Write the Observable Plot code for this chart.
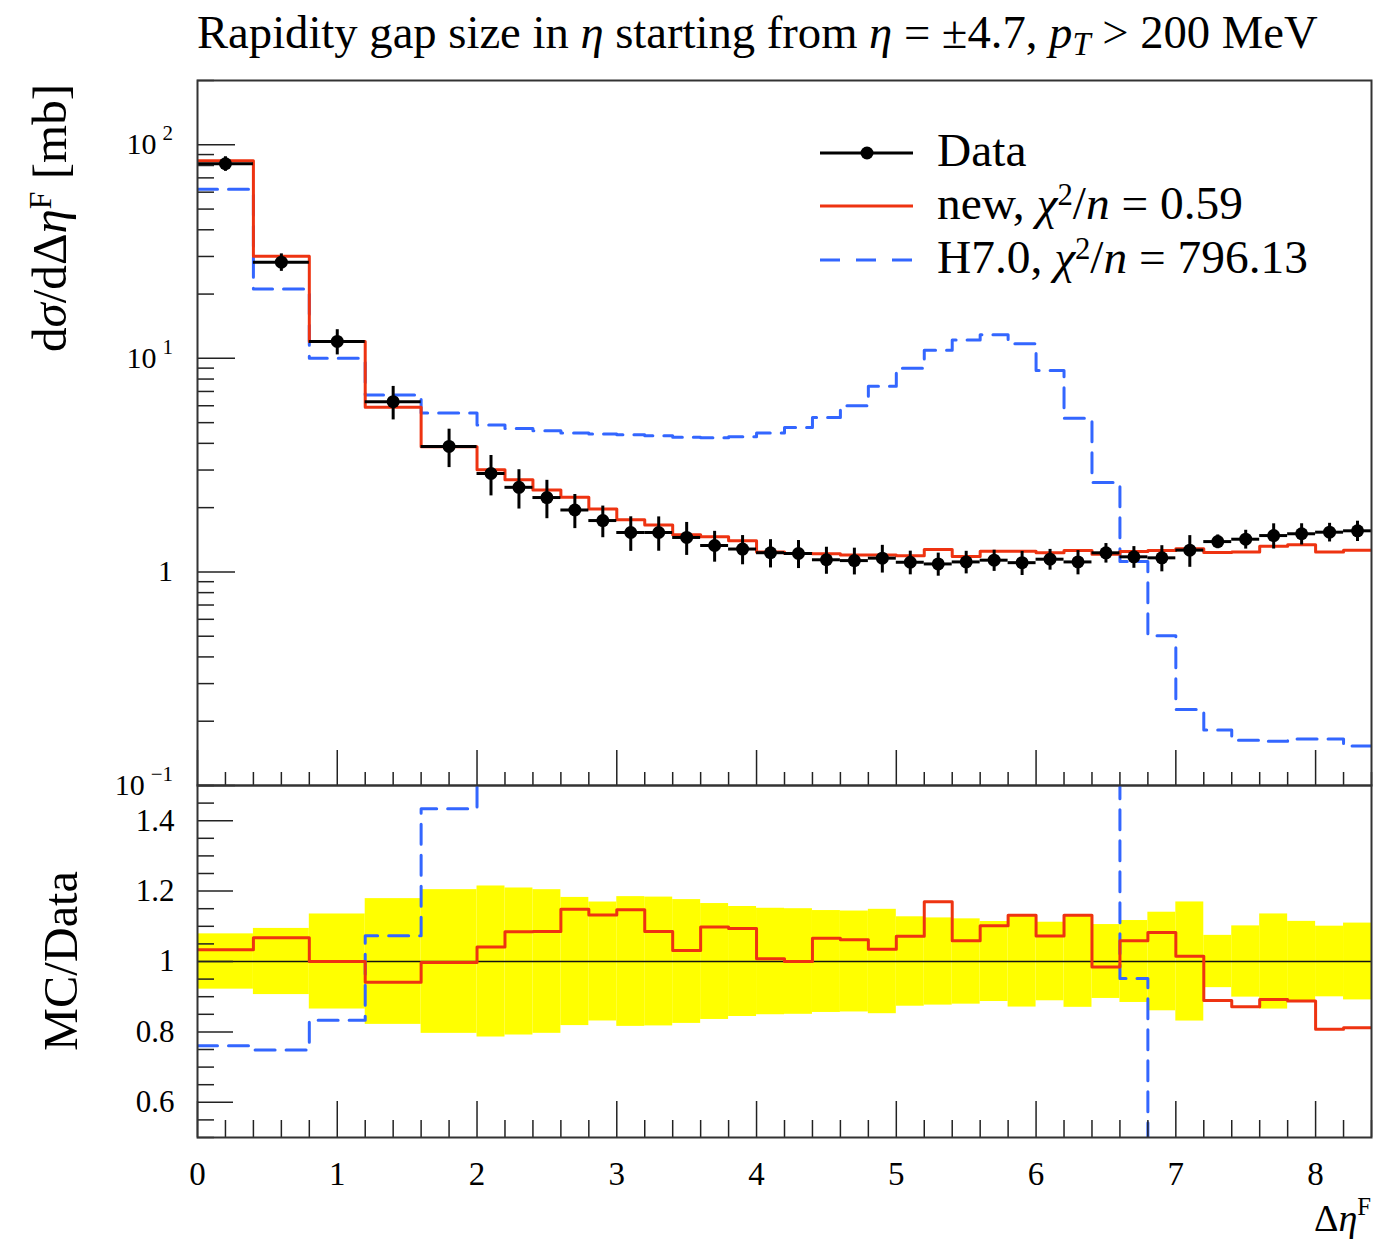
<!DOCTYPE html>
<html><head><meta charset="utf-8">
<script src="https://cdn.jsdelivr.net/npm/d3@7"></script>
<script src="https://cdn.jsdelivr.net/npm/@observablehq/plot@0.6"></script>
<style>
body{margin:0;background:#fff;}
#wrap{position:relative;width:1384px;height:1240px;overflow:hidden;background:#fff;}
#wrap svg{position:absolute;left:0;}
</style></head><body><div id="wrap"></div>
<script>
const binEdges = [0,0.4,0.8,1.2,1.6,2.0,2.2,2.4,2.6,2.8,3.0,3.2,3.4,3.6,3.8,4.0,4.2,4.4,4.6,4.8,5.0,5.2,5.4,5.6,5.8,6.0,6.2,6.4,6.6,6.8,7.0,7.2,7.4,7.6,7.8,8.0,8.2,8.4];
const dataValues = [81.5,28.2,12.0,6.27,3.87,2.89,2.49,2.23,1.95,1.74,1.53,1.53,1.45,1.33,1.28,1.23,1.22,1.14,1.13,1.16,1.11,1.09,1.114,1.135,1.105,1.147,1.114,1.229,1.177,1.164,1.265,1.387,1.423,1.48,1.509,1.535,1.558];
const dataErrors = [6.4,2.65,1.62,1.12,0.79,0.62,0.52,0.455,0.355,0.294,0.282,0.28,0.255,0.219,0.20,0.186,0.183,0.165,0.162,0.172,0.141,0.135,0.135,0.129,0.143,0.128,0.145,0.129,0.137,0.163,0.214,0.103,0.144,0.20,0.172,0.154,0.17];
const newValues = [84.2,30.1,12.0,5.90,3.86,3.01,2.70,2.42,2.24,1.97,1.755,1.66,1.495,1.46,1.40,1.24,1.22,1.215,1.20,1.20,1.19,1.275,1.18,1.25,1.25,1.23,1.26,1.21,1.246,1.26,1.284,1.233,1.24,1.32,1.34,1.24,1.265];
const h70Values = [62.0,21.1,10.0,6.73,5.55,4.88,4.70,4.58,4.47,4.42,4.39,4.34,4.27,4.25,4.30,4.47,4.75,5.29,6.0,7.4,8.99,10.9,12.2,12.9,11.7,8.77,5.24,2.62,1.12,0.503,0.227,0.182,0.163,0.161,0.165,0.165,0.153];
const xTicks = [0,1,2,3,4,5,6,7,8];
const xTickLabels = ["0","1","2","3","4","5","6","7","8"];
const yMainTicks = [0.1,1,10,100];
const yMainTickBases = ["10","1","10","10"];
const yMainTickPowers = ["\u22121","","1","2"];
const yRatioTicks = [0.6,0.8,1,1.2,1.4];
const yRatioTickLabels = ["0.6","0.8","1","1.2","1.4"];
const legendLabels = ["Data","new","H7.0"];
const chi2 = ["0.59","796.13"];

const FONT = "'Liberation Serif', 'DejaVu Serif', serif";
const RED = "#ee3311", BLUE = "#3366ff", YELLOW = "#ffff00";

const bins = dataValues.map((v,i)=>({x1:binEdges[i], x2:binEdges[i+1], xc:(binEdges[i]+binEdges[i+1])/2,
  data:v, err:dataErrors[i], mc:newValues[i], h7:h70Values[i]}));
const steps = f => bins.map(b=>({x:b.x1, y:f(b)})).concat([{x:bins[bins.length-1].x2, y:f(bins[bins.length-1])}]);

const xMinor = d3.range(0, 43).map(i=>i*0.2).filter(v=>v<=8.4001 && Math.abs(v-Math.round(v))>1e-6);
const yLogMinor = [];
[0.1,1,10,100].forEach(d=>{for(let k=2;k<=9;k++){const v=d*k; if(v<=200.0001) yLogMinor.push(v);}});
const yRatioMinor = d3.range(0,21).map(i=>0.5+i*0.05).filter(v=>!yRatioTicks.some(t=>Math.abs(t-v)<1e-6));

const W=1384, ML=197, MR=13;
const styleBase = {background:"transparent", fontFamily:FONT, fontSize:"31px", color:"#000", overflow:"visible"};
const fmt = (ticks, labels) => d => { const i = ticks.findIndex(t=>Math.abs(t-d)<1e-9); return i>=0 ? labels[i] : ""; };
const blank = () => "";
const tk = {stroke:"#222", strokeWidth:1.5, label:null, tickFormat:blank};

const main = Plot.plot({
  width: W, height: 800, marginLeft: ML, marginRight: MR, marginTop: 80, marginBottom: 15,
  style: styleBase,
  x: {domain:[0,8.4], label:null},
  y: {type:"log", domain:[0.1,200], label:null},
  marks: [
    Plot.line(steps(b=>b.h7), {x:"x", y:"y", curve:"step-after", stroke:BLUE, strokeWidth:3, strokeDasharray:"20,11", clip:true}),
    Plot.line(steps(b=>b.mc), {x:"x", y:"y", curve:"step-after", stroke:RED, strokeWidth:3, clip:true}),
    Plot.ruleY(bins, {y:"data", x1:"x1", x2:"x2", stroke:"black", strokeWidth:3}),
    Plot.ruleX(bins, {x:"xc", y1:d=>d.data-d.err, y2:d=>d.data+d.err, stroke:"black", strokeWidth:3}),
    Plot.dot(bins, {x:"xc", y:"data", r:6.5, fill:"black", stroke:"none"}),
    Plot.axisY({...tk, ticks:yLogMinor, anchor:"left", tickSize:-17}),
    Plot.axisY({...tk, ticks:yMainTicks, anchor:"left", tickSize:-38}),
    Plot.axisX({...tk, ticks:xMinor, anchor:"bottom", tickSize:-13}),
    Plot.axisX({...tk, ticks:xTicks, anchor:"bottom", tickSize:-35}),
    Plot.frame({stroke:"#333", strokeWidth:2})
  ]
});
main.style.top = "0px";

const ratio = Plot.plot({
  width: W, height: 470, marginLeft: ML, marginRight: MR, marginTop: 15, marginBottom: 103,
  style: styleBase,
  x: {domain:[0,8.4], label:null},
  y: {domain:[0.5,1.5], label:null},
  marks: [
    Plot.rect(bins, {x1:"x1", x2:"x2", y1:d=>1-d.err/d.data, y2:d=>1+d.err/d.data, fill:YELLOW}),
    Plot.ruleY([1], {stroke:"#111", strokeWidth:1.5}),
    Plot.line(steps(b=>b.h7/b.data), {x:"x", y:"y", curve:"step-after", stroke:BLUE, strokeWidth:3, strokeDasharray:"20,11", clip:true}),
    Plot.line(steps(b=>b.mc/b.data), {x:"x", y:"y", curve:"step-after", stroke:RED, strokeWidth:3, clip:true}),
    Plot.axisY({...tk, ticks:yRatioMinor, anchor:"left", tickSize:-17}),
    Plot.axisY({...tk, ticks:yRatioTicks, anchor:"left", tickSize:-36}),
    Plot.axisY({ticks:yRatioTicks, anchor:"left", tickSize:0, tickPadding:23, label:null, tickFormat:fmt(yRatioTicks,yRatioTickLabels), fontSize:31}),
    Plot.axisX({...tk, ticks:xMinor, anchor:"bottom", tickSize:-17}),
    Plot.axisX({...tk, ticks:xTicks, anchor:"bottom", tickSize:-36}),
    Plot.axisX({ticks:xTicks, anchor:"bottom", tickSize:0, tickPadding:24, label:null, tickFormat:fmt(xTicks,xTickLabels), fontSize:33}),
    Plot.frame({stroke:"#333", strokeWidth:2})
  ]
});
ratio.style.top = "770px";

const wrap = document.getElementById("wrap");
wrap.appendChild(main);
wrap.appendChild(ratio);

// overlay for title, axis labels, log tick labels and legend
const ns = "http://www.w3.org/2000/svg";
const ov = document.createElementNS(ns, "svg");
ov.setAttribute("width", W); ov.setAttribute("height", 1240);
ov.style.top = "0px"; ov.style.pointerEvents = "none";
ov.setAttribute("font-family", FONT);
const I = s => `<tspan font-style="italic">${s}</tspan>`;
const yS = main.scale("y");
const logLabels = yMainTicks.map((t,i)=>{
  const y = yS.apply(t);
  const p = yMainTickPowers[i];
  return `<text x="173" y="${(y+10).toFixed(1)}" text-anchor="end" font-size="30">${yMainTickBases[i]}${p ? `<tspan dx="6" dy="-14" font-size="21">${p}</tspan>` : ""}</text>`;
}).join("");
ov.innerHTML = `
${logLabels}
<text id="title" x="197" y="48" font-size="38">Rapidity gap size in ${I("η")} starting from ${I("η")} = ±4.7, ${I("p")}<tspan font-style="italic" font-size="70%" dy="7">T</tspan><tspan dy="-7"> &gt; 200 MeV</tspan></text>
<text id="ylab" transform="translate(66,84) rotate(-90)" text-anchor="end" font-size="36">d${I("σ")}/dΔ${I("η")}<tspan font-size="65%" dy="-15">F</tspan><tspan dy="15"> [mb]</tspan></text>
<text id="rlab" transform="translate(77,961) rotate(-90)" text-anchor="middle" font-size="36">MC/Data</text>
<text id="xlab" x="1371" y="1231" text-anchor="end" font-size="38">Δ${I("η")}<tspan font-size="65%" dy="-16">F</tspan></text>
<g id="legend">
  <line x1="820" x2="913" y1="153" y2="153" stroke="black" stroke-width="3"/>
  <circle cx="867" cy="153" r="6.5" fill="black"/>
  <text id="lg0" x="937" y="166" font-size="37">${legendLabels[0]}</text>
  <line x1="820" x2="913" y1="206" y2="206" stroke="${RED}" stroke-width="3"/>
  <text id="lg1" x="937" y="219" font-size="37">${legendLabels[1]}, ${I("χ")}<tspan font-size="65%" dy="-14">2</tspan><tspan dy="14">/</tspan>${I("n")} = ${chi2[0]}</text>
  <line x1="820" x2="913" y1="260" y2="260" stroke="${BLUE}" stroke-width="3" stroke-dasharray="20,16"/>
  <text id="lg2" x="937" y="273" font-size="37">${legendLabels[2]}, ${I("χ")}<tspan font-size="65%" dy="-14">2</tspan><tspan dy="14">/</tspan>${I("n")} = ${chi2[1]}</text>
</g>`;
wrap.appendChild(ov);

function fit(id, target){
  const el = ov.querySelector("#"+id);
  const w = el.getComputedTextLength();
  if (w>0){ const fs = parseFloat(el.getAttribute("font-size")); el.setAttribute("font-size", (fs*target/w).toFixed(2)); }
}
fit("title", 1121);
fit("ylab", 268);
fit("rlab", 180);
fit("lg2", 371);
const lgfs = ov.querySelector("#lg2").getAttribute("font-size");
ov.querySelector("#lg0").setAttribute("font-size", lgfs);
ov.querySelector("#lg1").setAttribute("font-size", lgfs);
</script></body></html>
